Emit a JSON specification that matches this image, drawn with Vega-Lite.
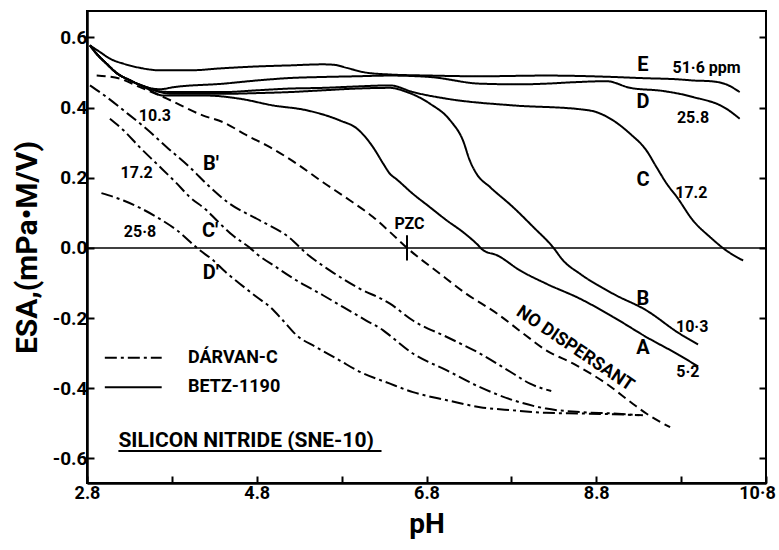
{
  "$schema": "https://vega.github.io/schema/vega-lite/v6.json",
  "width": 679,
  "height": 472,
  "autosize": {"type": "none"},
  "padding": {"left": 87, "top": 11, "right": 13, "bottom": 67},
  "background": "white",
  "config": {
    "view": {"stroke": "black", "strokeWidth": 2},
    "axis": {"labelFont": "Roboto", "labelFontWeight": "bold", "labelColor": "black", "titleFont": "Roboto", "titleFontWeight": "bold", "titleColor": "black", "tickColor": "black", "domainColor": "black", "grid": false}
  },
  "resolve": {"axis": {"x": "independent", "y": "independent"}},
  "datasets": {
    "curves": [
      {"s":"E","st":"solid","pH":2.835,"esa":0.577},{"s":"E","st":"solid","pH":2.953,"esa":0.558},{"s":"E","st":"solid","pH":3.071,"esa":0.539},{"s":"E","st":"solid","pH":3.228,"esa":0.525},{"s":"E","st":"solid","pH":3.424,"esa":0.513},{"s":"E","st":"solid","pH":3.66,"esa":0.506},{"s":"E","st":"solid","pH":4.013,"esa":0.506},{"s":"E","st":"solid","pH":4.405,"esa":0.512},{"s":"E","st":"solid","pH":4.8,"esa":0.517},{"s":"E","st":"solid","pH":5.19,"esa":0.52},{"s":"E","st":"solid","pH":5.58,"esa":0.523},{"s":"E","st":"solid","pH":5.7,"esa":0.522},{"s":"E","st":"solid","pH":5.86,"esa":0.513},{"s":"E","st":"solid","pH":6.05,"esa":0.501},{"s":"E","st":"solid","pH":6.37,"esa":0.494},{"s":"E","st":"solid","pH":6.84,"esa":0.491},{"s":"E","st":"solid","pH":7.43,"esa":0.489},{"s":"E","st":"solid","pH":8.21,"esa":0.491},{"s":"E","st":"solid","pH":9.0,"esa":0.487},{"s":"E","st":"solid","pH":9.31,"esa":0.484},{"s":"E","st":"solid","pH":9.78,"esa":0.48},{"s":"E","st":"solid","pH":9.94,"esa":0.477},{"s":"E","st":"solid","pH":10.14,"esa":0.475},{"s":"E","st":"solid","pH":10.33,"esa":0.466},{"s":"E","st":"solid","pH":10.49,"esa":0.444},

      {"s":"D","st":"solid","pH":2.835,"esa":0.577},{"s":"D","st":"solid","pH":2.914,"esa":0.553},{"s":"D","st":"solid","pH":3.03,"esa":0.525},{"s":"D","st":"solid","pH":3.15,"esa":0.498},{"s":"D","st":"solid","pH":3.31,"esa":0.477},{"s":"D","st":"solid","pH":3.5,"esa":0.458},{"s":"D","st":"solid","pH":3.66,"esa":0.452},{"s":"D","st":"solid","pH":3.82,"esa":0.458},{"s":"D","st":"solid","pH":4.41,"esa":0.468},{"s":"D","st":"solid","pH":4.8,"esa":0.477},{"s":"D","st":"solid","pH":5.19,"esa":0.484},{"s":"D","st":"solid","pH":5.58,"esa":0.487},{"s":"D","st":"solid","pH":5.98,"esa":0.489},{"s":"D","st":"solid","pH":6.37,"esa":0.491},{"s":"D","st":"solid","pH":6.84,"esa":0.487},{"s":"D","st":"solid","pH":7.43,"esa":0.468},{"s":"D","st":"solid","pH":7.9,"esa":0.466},{"s":"D","st":"solid","pH":8.21,"esa":0.468},{"s":"D","st":"solid","pH":8.53,"esa":0.472},{"s":"D","st":"solid","pH":8.92,"esa":0.475},{"s":"D","st":"solid","pH":9.2,"esa":0.456},{"s":"D","st":"solid","pH":9.59,"esa":0.447},{"s":"D","st":"solid","pH":9.94,"esa":0.43},{"s":"D","st":"solid","pH":10.33,"esa":0.397},{"s":"D","st":"solid","pH":10.49,"esa":0.368},

      {"s":"C","st":"solid","pH":2.835,"esa":0.577},{"s":"C","st":"solid","pH":2.914,"esa":0.553},{"s":"C","st":"solid","pH":3.03,"esa":0.525},{"s":"C","st":"solid","pH":3.15,"esa":0.498},{"s":"C","st":"solid","pH":3.31,"esa":0.477},{"s":"C","st":"solid","pH":3.5,"esa":0.458},{"s":"C","st":"solid","pH":3.66,"esa":0.446},{"s":"C","st":"solid","pH":3.82,"esa":0.444},{"s":"C","st":"solid","pH":4.41,"esa":0.444},{"s":"C","st":"solid","pH":4.8,"esa":0.449},{"s":"C","st":"solid","pH":5.19,"esa":0.454},{"s":"C","st":"solid","pH":5.58,"esa":0.456},{"s":"C","st":"solid","pH":5.98,"esa":0.46},{"s":"C","st":"solid","pH":6.37,"esa":0.463},{"s":"C","st":"solid","pH":6.64,"esa":0.444},{"s":"C","st":"solid","pH":7.04,"esa":0.425},{"s":"C","st":"solid","pH":7.82,"esa":0.406},{"s":"C","st":"solid","pH":8.61,"esa":0.395},{"s":"C","st":"solid","pH":8.8,"esa":0.387},{"s":"C","st":"solid","pH":9.0,"esa":0.363},{"s":"C","st":"solid","pH":9.2,"esa":0.325},{"s":"C","st":"solid","pH":9.39,"esa":0.278},{"s":"C","st":"solid","pH":9.51,"esa":0.23},{"s":"C","st":"solid","pH":9.63,"esa":0.183},{"s":"C","st":"solid","pH":9.75,"esa":0.145},{"s":"C","st":"solid","pH":9.94,"esa":0.078},{"s":"C","st":"solid","pH":10.14,"esa":0.031},{"s":"C","st":"solid","pH":10.33,"esa":-0.007},{"s":"C","st":"solid","pH":10.53,"esa":-0.036},

      {"s":"B","st":"solid","pH":2.835,"esa":0.577},{"s":"B","st":"solid","pH":2.914,"esa":0.553},{"s":"B","st":"solid","pH":3.03,"esa":0.525},{"s":"B","st":"solid","pH":3.15,"esa":0.498},{"s":"B","st":"solid","pH":3.31,"esa":0.477},{"s":"B","st":"solid","pH":3.5,"esa":0.458},{"s":"B","st":"solid","pH":3.66,"esa":0.444},{"s":"B","st":"solid","pH":3.82,"esa":0.439},{"s":"B","st":"solid","pH":4.41,"esa":0.439},{"s":"B","st":"solid","pH":4.8,"esa":0.441},{"s":"B","st":"solid","pH":5.19,"esa":0.444},{"s":"B","st":"solid","pH":5.58,"esa":0.449},{"s":"B","st":"solid","pH":5.98,"esa":0.454},{"s":"B","st":"solid","pH":6.37,"esa":0.456},{"s":"B","st":"solid","pH":6.57,"esa":0.444},{"s":"B","st":"solid","pH":6.84,"esa":0.411},{"s":"B","st":"solid","pH":7.08,"esa":0.363},{"s":"B","st":"solid","pH":7.23,"esa":0.306},{"s":"B","st":"solid","pH":7.31,"esa":0.249},{"s":"B","st":"solid","pH":7.39,"esa":0.211},{"s":"B","st":"solid","pH":7.55,"esa":0.173},{"s":"B","st":"solid","pH":7.82,"esa":0.116},{"s":"B","st":"solid","pH":8.06,"esa":0.059},{"s":"B","st":"solid","pH":8.29,"esa":0.002},{"s":"B","st":"solid","pH":8.41,"esa":-0.036},{"s":"B","st":"solid","pH":8.61,"esa":-0.074},{"s":"B","st":"solid","pH":9.0,"esa":-0.131},{"s":"B","st":"solid","pH":9.39,"esa":-0.178},{"s":"B","st":"solid","pH":9.78,"esa":-0.244},{"s":"B","st":"solid","pH":10.0,"esa":-0.275},

      {"s":"A","st":"solid","pH":2.835,"esa":0.577},{"s":"A","st":"solid","pH":2.914,"esa":0.553},{"s":"A","st":"solid","pH":3.03,"esa":0.525},{"s":"A","st":"solid","pH":3.15,"esa":0.498},{"s":"A","st":"solid","pH":3.31,"esa":0.477},{"s":"A","st":"solid","pH":3.5,"esa":0.455},{"s":"A","st":"solid","pH":3.7,"esa":0.434},{"s":"A","st":"solid","pH":4.21,"esa":0.434},{"s":"A","st":"solid","pH":4.6,"esa":0.425},{"s":"A","st":"solid","pH":4.99,"esa":0.406},{"s":"A","st":"solid","pH":5.39,"esa":0.392},{"s":"A","st":"solid","pH":5.78,"esa":0.363},{"s":"A","st":"solid","pH":5.98,"esa":0.34},{"s":"A","st":"solid","pH":6.17,"esa":0.287},{"s":"A","st":"solid","pH":6.29,"esa":0.24},{"s":"A","st":"solid","pH":6.37,"esa":0.211},{"s":"A","st":"solid","pH":6.45,"esa":0.195},{"s":"A","st":"solid","pH":6.64,"esa":0.154},{"s":"A","st":"solid","pH":6.84,"esa":0.116},{"s":"A","st":"solid","pH":7.04,"esa":0.078},{"s":"A","st":"solid","pH":7.23,"esa":0.045},{"s":"A","st":"solid","pH":7.39,"esa":0.012},{"s":"A","st":"solid","pH":7.47,"esa":-0.007},{"s":"A","st":"solid","pH":7.63,"esa":-0.021},{"s":"A","st":"solid","pH":7.9,"esa":-0.064},{"s":"A","st":"solid","pH":8.21,"esa":-0.102},{"s":"A","st":"solid","pH":8.61,"esa":-0.145},{"s":"A","st":"solid","pH":9.0,"esa":-0.197},{"s":"A","st":"solid","pH":9.39,"esa":-0.254},{"s":"A","st":"solid","pH":9.78,"esa":-0.306},{"s":"A","st":"solid","pH":10.0,"esa":-0.338},

      {"s":"N","st":"dashed","pH":2.914,"esa":0.491},{"s":"N","st":"dashed","pH":3.189,"esa":0.482},{"s":"N","st":"dashed","pH":3.424,"esa":0.458},{"s":"N","st":"dashed","pH":3.699,"esa":0.43},{"s":"N","st":"dashed","pH":4.17,"esa":0.377},{"s":"N","st":"dashed","pH":4.405,"esa":0.358},{"s":"N","st":"dashed","pH":4.68,"esa":0.321},{"s":"N","st":"dashed","pH":4.955,"esa":0.287},{"s":"N","st":"dashed","pH":5.27,"esa":0.24},{"s":"N","st":"dashed","pH":5.58,"esa":0.187},{"s":"N","st":"dashed","pH":5.9,"esa":0.135},{"s":"N","st":"dashed","pH":6.17,"esa":0.088},{"s":"N","st":"dashed","pH":6.37,"esa":0.045},{"s":"N","st":"dashed","pH":6.57,"esa":0.0},{"s":"N","st":"dashed","pH":6.96,"esa":-0.074},{"s":"N","st":"dashed","pH":7.27,"esa":-0.131},{"s":"N","st":"dashed","pH":7.63,"esa":-0.187},{"s":"N","st":"dashed","pH":7.94,"esa":-0.244},{"s":"N","st":"dashed","pH":8.21,"esa":-0.292},{"s":"N","st":"dashed","pH":8.53,"esa":-0.33},{"s":"N","st":"dashed","pH":8.92,"esa":-0.387},{"s":"N","st":"dashed","pH":9.23,"esa":-0.444},{"s":"N","st":"dashed","pH":9.39,"esa":-0.472},{"s":"N","st":"dashed","pH":9.67,"esa":-0.511},

      {"s":"B'","st":"dashdot","pH":2.835,"esa":0.463},{"s":"B'","st":"dashdot","pH":3.03,"esa":0.43},{"s":"B'","st":"dashdot","pH":3.23,"esa":0.392},{"s":"B'","st":"dashdot","pH":3.52,"esa":0.335},{"s":"B'","st":"dashdot","pH":3.74,"esa":0.287},{"s":"B'","st":"dashdot","pH":4.01,"esa":0.23},{"s":"B'","st":"dashdot","pH":4.25,"esa":0.173},{"s":"B'","st":"dashdot","pH":4.48,"esa":0.126},{"s":"B'","st":"dashdot","pH":4.8,"esa":0.083},{"s":"B'","st":"dashdot","pH":5.19,"esa":0.028},{"s":"B'","st":"dashdot","pH":5.39,"esa":-0.017},{"s":"B'","st":"dashdot","pH":5.66,"esa":-0.064},{"s":"B'","st":"dashdot","pH":5.98,"esa":-0.112},{"s":"B'","st":"dashdot","pH":6.37,"esa":-0.159},{"s":"B'","st":"dashdot","pH":6.64,"esa":-0.207},{"s":"B'","st":"dashdot","pH":7.04,"esa":-0.254},{"s":"B'","st":"dashdot","pH":7.43,"esa":-0.301},{"s":"B'","st":"dashdot","pH":7.82,"esa":-0.358},{"s":"B'","st":"dashdot","pH":8.02,"esa":-0.387},{"s":"B'","st":"dashdot","pH":8.27,"esa":-0.408},

      {"s":"C'","st":"dashdot","pH":3.07,"esa":0.368},{"s":"C'","st":"dashdot","pH":3.23,"esa":0.335},{"s":"C'","st":"dashdot","pH":3.42,"esa":0.287},{"s":"C'","st":"dashdot","pH":3.62,"esa":0.24},{"s":"C'","st":"dashdot","pH":3.86,"esa":0.183},{"s":"C'","st":"dashdot","pH":4.01,"esa":0.145},{"s":"C'","st":"dashdot","pH":4.21,"esa":0.107},{"s":"C'","st":"dashdot","pH":4.33,"esa":0.078},{"s":"C'","st":"dashdot","pH":4.52,"esa":0.035},{"s":"C'","st":"dashdot","pH":4.72,"esa":0.0},{"s":"C'","st":"dashdot","pH":4.8,"esa":-0.017},{"s":"C'","st":"dashdot","pH":5.03,"esa":-0.055},{"s":"C'","st":"dashdot","pH":5.27,"esa":-0.093},{"s":"C'","st":"dashdot","pH":5.58,"esa":-0.135},{"s":"C'","st":"dashdot","pH":5.82,"esa":-0.169},{"s":"C'","st":"dashdot","pH":6.09,"esa":-0.207},{"s":"C'","st":"dashdot","pH":6.29,"esa":-0.235},{"s":"C'","st":"dashdot","pH":6.37,"esa":-0.25},{"s":"C'","st":"dashdot","pH":6.64,"esa":-0.301},{"s":"C'","st":"dashdot","pH":7.04,"esa":-0.349},{"s":"C'","st":"dashdot","pH":7.43,"esa":-0.397},{"s":"C'","st":"dashdot","pH":7.82,"esa":-0.434},{"s":"C'","st":"dashdot","pH":8.21,"esa":-0.458},{"s":"C'","st":"dashdot","pH":8.61,"esa":-0.468},{"s":"C'","st":"dashdot","pH":9.0,"esa":-0.472},{"s":"C'","st":"dashdot","pH":9.35,"esa":-0.477},

      {"s":"D'","st":"dashdot","pH":2.97,"esa":0.156},{"s":"D'","st":"dashdot","pH":3.23,"esa":0.135},{"s":"D'","st":"dashdot","pH":3.62,"esa":0.088},{"s":"D'","st":"dashdot","pH":3.86,"esa":0.05},{"s":"D'","st":"dashdot","pH":4.13,"esa":-0.007},{"s":"D'","st":"dashdot","pH":4.29,"esa":-0.036},{"s":"D'","st":"dashdot","pH":4.41,"esa":-0.064},{"s":"D'","st":"dashdot","pH":4.6,"esa":-0.102},{"s":"D'","st":"dashdot","pH":4.8,"esa":-0.14},{"s":"D'","st":"dashdot","pH":4.96,"esa":-0.169},{"s":"D'","st":"dashdot","pH":5.11,"esa":-0.207},{"s":"D'","st":"dashdot","pH":5.27,"esa":-0.249},{"s":"D'","st":"dashdot","pH":5.5,"esa":-0.283},{"s":"D'","st":"dashdot","pH":5.78,"esa":-0.321},{"s":"D'","st":"dashdot","pH":5.98,"esa":-0.349},{"s":"D'","st":"dashdot","pH":6.37,"esa":-0.387},{"s":"D'","st":"dashdot","pH":6.64,"esa":-0.411},{"s":"D'","st":"dashdot","pH":7.04,"esa":-0.434},{"s":"D'","st":"dashdot","pH":7.43,"esa":-0.454},{"s":"D'","st":"dashdot","pH":7.82,"esa":-0.463},{"s":"D'","st":"dashdot","pH":8.21,"esa":-0.47},{"s":"D'","st":"dashdot","pH":8.61,"esa":-0.472},{"s":"D'","st":"dashdot","pH":9.0,"esa":-0.474},{"s":"D'","st":"dashdot","pH":9.31,"esa":-0.477}
    ],
    "labels": [
      {"t":"E","pH":9.35,"esa":0.52,"role":"letter"},
      {"t":"D","pH":9.35,"esa":0.415,"role":"letter"},
      {"t":"C","pH":9.35,"esa":0.192,"role":"letter"},
      {"t":"B","pH":9.35,"esa":-0.145,"role":"letter"},
      {"t":"A","pH":9.35,"esa":-0.284,"role":"letter"},
      {"t":"B′","pH":4.26,"esa":0.238,"role":"letter"},
      {"t":"C′","pH":4.25,"esa":0.047,"role":"letter"},
      {"t":"D′","pH":4.26,"esa":-0.071,"role":"letter"},
      {"t":"51·6 ppm","pH":10.1,"esa":0.513,"role":"num"},
      {"t":"25.8","pH":9.94,"esa":0.37,"role":"num"},
      {"t":"17.2","pH":9.92,"esa":0.157,"role":"num"},
      {"t":"10·3","pH":9.93,"esa":-0.226,"role":"num"},
      {"t":"5·2","pH":9.88,"esa":-0.355,"role":"num"},
      {"t":"10.3","pH":3.6,"esa":0.377,"role":"num"},
      {"t":"17.2","pH":3.385,"esa":0.214,"role":"num"},
      {"t":"25·8","pH":3.424,"esa":0.045,"role":"num"},
      {"t":"PZC","pH":6.6,"esa":0.067,"role":"num"},
      {"t":"DÁRVAN-C","pH":3.99,"esa":-0.315,"role":"legend"},
      {"t":"BETZ-1190","pH":3.99,"esa":-0.397,"role":"legend"},
      {"t":"SILICON  NITRIDE (SNE-10)","pH":3.17,"esa":-0.55,"role":"title"},
      {"t":"NO DISPERSANT","pH":8.55,"esa":-0.288,"role":"rot"}
    ]
  },
  "layer": [
    {
      "data": {"values": [{"v": 0}]},
      "mark": {"type": "rule", "color": "black", "strokeWidth": 1.5},
      "encoding": {
        "y": {"field": "v", "type": "quantitative", "scale": {"domain": [-0.67, 0.675], "nice": false, "zero": false},
          "axis": {"orient": "right", "values": [-0.6, -0.4, -0.2, 0, 0.2, 0.4, 0.6], "labels": false, "title": null, "tickSize": -7, "tickWidth": 2, "domain": false}}
      }
    },
    {
      "data": {"name": "curves"},
      "mark": {"type": "line", "color": "black", "strokeWidth": 2, "interpolate": "monotone"},
      "encoding": {
        "x": {"field": "pH", "type": "quantitative", "scale": {"domain": [2.8, 10.8], "nice": false, "zero": false},
          "axis": {"orient": "bottom", "values": [2.8, 3.8, 4.8, 5.8, 6.8, 7.8, 8.8, 9.8, 10.8],
            "labelExpr": "(round(datum.value*10)-28)%20==0 ? (datum.value>10 ? '10·8' : format(datum.value,'.1f')) : ''",
            "labelOffset": {"condition": {"test": "datum.value > 10", "value": -9}, "value": 0},
            "labelFontSize": 18, "labelPadding": 8, "tickSize": -7, "tickWidth": 2, "domainWidth": 2.5,
            "title": "pH", "titleFontSize": 28, "titlePadding": 8, "labelFlush": false}},
        "y": {"field": "esa", "type": "quantitative",
          "axis": {"orient": "left", "values": [-0.6, -0.4, -0.2, 0, 0.2, 0.4, 0.6],
            "labelExpr": "replace(format(datum.value,'.1f'),'−','-')",
            "labelFontSize": 19, "labelPadding": 7, "tickSize": -7, "tickWidth": 2, "domainWidth": 2.5,
            "title": "ESA,(mPa•M/V)", "titleFontSize": 30, "titlePadding": 10}},
        "detail": {"field": "s", "type": "nominal"},
        "strokeDash": {"field": "st", "type": "nominal", "scale": {"domain": ["solid", "dashed", "dashdot"], "range": [[1, 0], [9, 5], [12, 4, 3, 4]]}, "legend": null}
      }
    },
    {
      "data": {"values": [{"pH": 6.57, "hi": 0.036, "lo": -0.036}]},
      "mark": {"type": "rule", "color": "black", "strokeWidth": 2},
      "encoding": {
        "x": {"field": "pH", "type": "quantitative", "axis": null},
        "y": {"field": "hi", "type": "quantitative", "axis": null},
        "y2": {"field": "lo"}
      }
    },
    {
      "data": {"values": [{"x1": 3.01, "x2": 3.68, "y": -0.313, "st": "dashdot"}, {"x1": 3.01, "x2": 3.68, "y": -0.397, "st": "solid"}]},
      "mark": {"type": "rule", "color": "black", "strokeWidth": 2},
      "encoding": {
        "x": {"field": "x1", "type": "quantitative", "axis": null},
        "x2": {"field": "x2"},
        "y": {"field": "y", "type": "quantitative", "axis": null},
        "strokeDash": {"field": "st", "type": "nominal", "legend": null}
      }
    },
    {
      "data": {"values": [{"x1": 3.17, "x2": 6.27, "y": -0.579}]},
      "mark": {"type": "rule", "color": "black", "strokeWidth": 2},
      "encoding": {
        "x": {"field": "x1", "type": "quantitative", "axis": null},
        "x2": {"field": "x2"},
        "y": {"field": "y", "type": "quantitative", "axis": null}
      }
    },
    {
      "data": {"name": "labels"},
      "transform": [{"filter": "datum.role == 'letter'"}],
      "mark": {"type": "text", "font": "Roboto", "fontWeight": "bold", "fontSize": 20, "color": "black", "align": "center", "baseline": "middle"},
      "encoding": {
        "x": {"field": "pH", "type": "quantitative", "axis": null},
        "y": {"field": "esa", "type": "quantitative", "axis": null},
        "text": {"field": "t"}
      }
    },
    {
      "data": {"name": "labels"},
      "transform": [{"filter": "datum.role == 'num'"}],
      "mark": {"type": "text", "font": "Roboto", "fontWeight": "bold", "fontSize": 16, "color": "black", "align": "center", "baseline": "middle"},
      "encoding": {
        "x": {"field": "pH", "type": "quantitative", "axis": null},
        "y": {"field": "esa", "type": "quantitative", "axis": null},
        "text": {"field": "t"}
      }
    },
    {
      "data": {"name": "labels"},
      "transform": [{"filter": "datum.role == 'legend'"}],
      "mark": {"type": "text", "font": "Roboto", "fontWeight": "bold", "fontSize": 18, "color": "black", "align": "left", "baseline": "middle"},
      "encoding": {
        "x": {"field": "pH", "type": "quantitative", "axis": null},
        "y": {"field": "esa", "type": "quantitative", "axis": null},
        "text": {"field": "t"}
      }
    },
    {
      "data": {"name": "labels"},
      "transform": [{"filter": "datum.role == 'title'"}],
      "mark": {"type": "text", "font": "Roboto", "fontWeight": "bold", "fontSize": 21, "color": "black", "align": "left", "baseline": "middle"},
      "encoding": {
        "x": {"field": "pH", "type": "quantitative", "axis": null},
        "y": {"field": "esa", "type": "quantitative", "axis": null},
        "text": {"field": "t"}
      }
    },
    {
      "data": {"name": "labels"},
      "transform": [{"filter": "datum.role == 'rot'"}],
      "mark": {"type": "text", "font": "Roboto", "fontWeight": "bold", "fontSize": 18, "color": "black", "align": "center", "baseline": "middle", "angle": 34},
      "encoding": {
        "x": {"field": "pH", "type": "quantitative", "axis": null},
        "y": {"field": "esa", "type": "quantitative", "axis": null},
        "text": {"field": "t"}
      }
    }
  ]
}
